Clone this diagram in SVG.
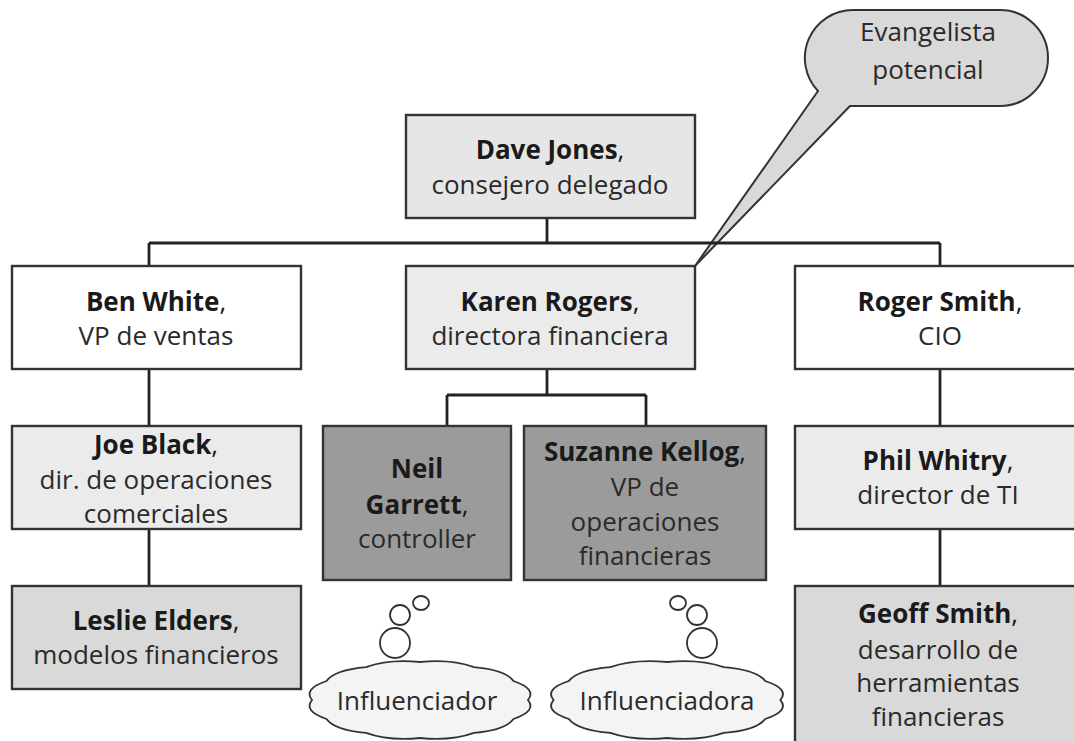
<svg xmlns="http://www.w3.org/2000/svg" width="1074" height="741" viewBox="0 0 1074 741">
<style>
.box{stroke:#333;stroke-width:2.4}
.w{fill:#ffffff}
.l{fill:#ebebeb}
.m{fill:#d9d9d9}
.d{fill:#9b9b9b}
.conn{stroke:#222;stroke-width:2.8;fill:none}
text{font-family:"Open Sans","Noto Sans","Liberation Sans",sans-serif;font-size:26px;fill:#2a2a2a;text-anchor:middle}
.b{font-weight:bold;fill:#1a1a1a}
.n{font-weight:normal}
.cloud{fill:#f4f4f4;stroke:#333;stroke-width:1.8}
.bub{fill:#ffffff;stroke:#333;stroke-width:1.8}
</style>
<defs>
<path id="cloudShape" d="M108,0 Q116.9,11 93.5,19 Q85.5,30.1 54,32.9 Q31.3,41.1 0,38 Q-31.3,41.1 -54,32.9 Q-85.5,30.1 -93.5,19 Q-116.9,11 -108,0 Q-116.9,-11 -93.5,-19 Q-85.5,-30.1 -54,-32.9 Q-31.3,-41.1 0,-38 Q31.3,-41.1 54,-32.9 Q85.5,-30.1 93.5,-19 Q116.9,-11 108,0 Z"/>
</defs>
<rect width="1074" height="741" fill="#ffffff"/>

<g id="callout">
<path d="M695,266 L818,91 A48,48 0 0 1 853,10 L1000,10 A48,48 0 0 1 1000,106 L850,106 Z" fill="#d9d9d9" stroke="#333" stroke-width="2" stroke-linejoin="round"/>
<text x="928" y="41" fill="#333">Evangelista</text>
<text x="928" y="79" fill="#333">potencial</text>
</g>

<g id="connectors">
<path class="conn" d="M547,218 V243"/>
<path class="conn" d="M149,243 H940"/>
<path class="conn" d="M149,243 V266"/>
<path class="conn" d="M940,243 V266"/>
<path class="conn" d="M149,369 V426"/>
<path class="conn" d="M149,529 V586"/>
<path class="conn" d="M547,369 V395"/>
<path class="conn" d="M447,395 H646"/>
<path class="conn" d="M447,395 V426"/>
<path class="conn" d="M646,395 V426"/>
<path class="conn" d="M940,369 V426"/>
<path class="conn" d="M940,529 V586"/>
</g>

<g id="dave-jones">
<rect class="box l" x="406" y="115" width="289" height="103" style="fill:#e6e6e6"/>
<text x="550" y="159" class="b">Dave Jones<tspan class="n">,</tspan></text>
<text x="550" y="194">consejero delegado</text>
</g>

<g id="ben-white">
<rect class="box w" x="12" y="266" width="289" height="103"/>
<text x="156" y="311" class="b">Ben White<tspan class="n">,</tspan></text>
<text x="156" y="345">VP de ventas</text>
</g>

<g id="karen-rogers">
<rect class="box l" x="406" y="266" width="289" height="103"/>
<text x="550" y="311" class="b">Karen Rogers<tspan class="n">,</tspan></text>
<text x="550" y="345">directora financiera</text>
</g>

<g id="roger-smith">
<rect class="box w" x="795" y="266" width="290" height="103"/>
<text x="940" y="311" class="b">Roger Smith<tspan class="n">,</tspan></text>
<text x="940" y="345">CIO</text>
</g>

<g id="joe-black">
<rect class="box l" x="12" y="426" width="289" height="103"/>
<text x="156" y="454" class="b">Joe Black<tspan class="n">,</tspan></text>
<text x="156" y="489">dir. de operaciones</text>
<text x="156" y="523">comerciales</text>
</g>

<g id="leslie-elders">
<rect class="box m" x="12" y="586" width="289" height="103"/>
<text x="156" y="630" class="b">Leslie Elders<tspan class="n">,</tspan></text>
<text x="156" y="664">modelos financieros</text>
</g>

<g id="neil-garrett">
<rect class="box d" x="323" y="426" width="188" height="154"/>
<text x="417" y="478" class="b">Neil</text>
<text x="417" y="514" class="b">Garrett<tspan class="n">,</tspan></text>
<text x="417" y="548">controller</text>
</g>

<g id="suzanne-kellog">
<rect class="box d" x="524" y="426" width="242" height="154"/>
<text x="645" y="461" class="b">Suzanne Kellog<tspan class="n">,</tspan></text>
<text x="645" y="496">VP de</text>
<text x="645" y="531">operaciones</text>
<text x="645" y="565">financieras</text>
</g>

<g id="phil-whitry">
<rect class="box l" x="795" y="426" width="290" height="103"/>
<text x="938" y="470" class="b">Phil Whitry<tspan class="n">,</tspan></text>
<text x="938" y="504">director de TI</text>
</g>

<g id="geoff-smith">
<rect class="box m" x="795" y="586" width="290" height="170"/>
<text x="938" y="623" class="b">Geoff Smith<tspan class="n">,</tspan></text>
<text x="938" y="659">desarrollo de</text>
<text x="938" y="692">herramientas</text>
<text x="938" y="726">financieras</text>
</g>

<g id="influenciador">
<ellipse class="bub" cx="421" cy="603" rx="8" ry="7"/>
<circle class="bub" cx="400" cy="615" r="10"/>
<circle class="bub" cx="395" cy="643" r="15"/>
<use href="#cloudShape" class="cloud" transform="translate(420,700)"/>
<text x="417" y="710">Influenciador</text>
</g>

<g id="influenciadora">
<ellipse class="bub" cx="678" cy="603" rx="8" ry="7"/>
<circle class="bub" cx="697" cy="615" r="10"/>
<circle class="bub" cx="702" cy="643" r="15"/>
<use href="#cloudShape" class="cloud" transform="translate(667,700) scale(1.05,1)"/>
<text x="667" y="710">Influenciadora</text>
</g>
</svg>
